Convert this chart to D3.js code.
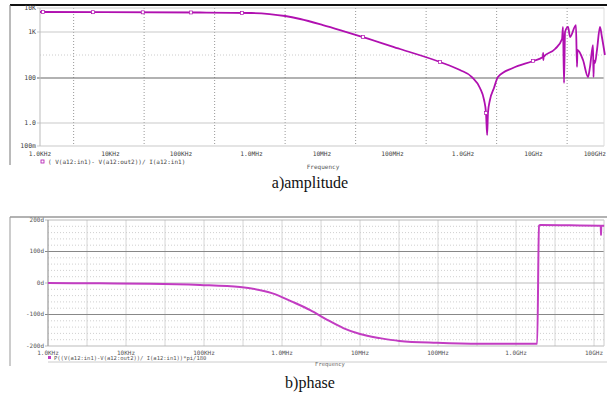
<!DOCTYPE html>
<html>
<head>
<meta charset="utf-8">
<script src="https://cdn.jsdelivr.net/npm/d3@7"></script>
<style>
  body { margin: 0; background: #fff; }
  svg { display: block; }
</style>
</head>
<body>
<div id="chart"></div>
<script>
// amplitude panel data (frequency in Hz, magnitude in ohm)
var ampFreq = [1e3, 1.86e5, 1e6, 1.8e6, 3e6, 4.9e6, 1.03e7, 1.8e7, 3.8e7, 1.28e8, 4.7e8, 9.06e8, 1.34e9, 1.74e9,
    1.99e9, 2.12e9, 2.2e9, 2.26e9, 2.41e9, 2.75e9, 3.13e9, 5.1e9, 9.8e9, 1.36e10, 1.37e10, 1.38e10, 1.39e10,
    2.02e10, 2.54e10, 2.62e10, 2.71e10, 2.8e10, 3.09e10, 3.3e10, 4.0e10, 4.14e10, 4.2e10, 5.04e10, 5.93e10,
    6.33e10, 6.98e10, 7.1e10, 7.2e10, 7.45e10, 7.95e10, 8.77e10, 9.34e10, 1.03e11];
var ampValue = [6800, 6500, 6200, 5600, 4640, 3480, 1950, 1210, 778, 427, 223, 149, 105, 36,
    10.5, 2.8, 0.3, 2.8, 10.5, 36, 105, 165, 234, 286, 350, 246, 286,
    427, 705, 1620, 60, 1000, 1620, 778, 1950, 174, 406, 246, 105,
    174, 521, 105, 240, 212, 406, 1620, 778, 316];
var ampMarkers = [1.1e3, 5.65e3, 2.87e4, 1.38e5, 7.3e5, 3.8e7, 4.7e8, 2.12e9, 9.8e9];

var ampTicks = [10000, 1000, 100, 1, 0.1];
var ampTickLabels = ["10K", "1K", "100", "1.0", "100m"];
var ampFreqTicks = [1e3, 1e4, 1e5, 1e6, 1e7, 1e8, 1e9, 1e10, 1e11];
var ampFreqLabels = ["1.0KHz", "10KHz", "100KHz", "1.0MHz", "10MHz", "100MHz", "1.0GHz", "10GHz", "100GHz"];

// phase panel data (frequency in Hz, phase in degrees)
var phFreq = [1e3, 4.6e3, 2e4, 8.9e4, 2.9e5, 7.4e5, 1.37e6, 2.3e6, 3.8e6, 6.1e6, 1e7, 1.8e7, 3.2e7, 9.7e7, 3.5e8,
    1.87e9, 1.97e9, 2.05e9, 1.2e10, 1.22e10, 1.23e10, 1.24e10, 1.35e10];
var phValue = [0, -1, -2, -6, -13, -32, -60, -86, -117, -143, -162, -175, -184, -190, -193,
    -193, 182, 184, 182, 182, 152, 182, 182];
var phTicks = [200, 100, 0, -100, -200];
var phTickLabels = ["200d", "100d", "0d", "-100d", "-200d"];
var phFreqTicks = [1e3, 1e4, 1e5, 1e6, 1e7, 1e8, 1e9, 1e10];
var phFreqLabels = ["1.0KHz", "10KHz", "100KHz", "1.0MHz", "10MHz", "100MHz", "1.0GHz", "10GHz"];

var width = 608, height = 396;
var svg = d3.select("#chart").append("svg")
    .attr("width", width)
    .attr("height", height);

var tickFont = "DejaVu Sans Mono";

// ---------- amplitude ----------
var ampG = svg.append("g");
ampG.append("line").attr("x1", 10).attr("x2", 607).attr("y1", 5).attr("y2", 5)
    .style("stroke", "#111").style("stroke-width", 2);
ampG.append("line").attr("x1", 10).attr("x2", 10).attr("y1", 5).attr("y2", 165)
    .style("stroke", "#777");

var xa = d3.scaleLog().domain([1e3, 1e11]).range([40, 604]);
var ya = d3.scaleLog().domain([0.1, 1, 100, 1000, 10000]).range([146, 123, 78, 32, 8]);

// vertical dotted grid at 3x decades
var aGrid = [3e3, 3e4, 3e5, 3e6, 3e7, 3e8, 3e9, 3e10];
ampG.selectAll(".vg").data(aGrid).enter().append("line")
    .attr("x1", function(d) { return xa(d); }).attr("x2", function(d) { return xa(d); })
    .attr("y1", 8).attr("y2", 146)
    .style("stroke", "#999").style("stroke-dasharray", "1,2");
ampG.selectAll(".hgd").data([316]).enter().append("line")
    .attr("x1", 40).attr("x2", 604)
    .attr("y1", function(d) { return ya(d); }).attr("y2", function(d) { return ya(d); })
    .style("stroke", "#ccc").style("stroke-dasharray", "1,2");
ampG.selectAll(".hg").data(ampTicks).enter().append("line")
    .attr("x1", 37).attr("x2", 604)
    .attr("y1", function(d) { return ya(d); }).attr("y2", function(d) { return ya(d); })
    .style("stroke", function(d) { return d === 100 ? "#666" : "#bbb"; })
    .style("stroke-width", function(d) { return d === 100 ? 1.2 : 0.8; });
ampG.append("line").attr("x1", 40).attr("x2", 40).attr("y1", 8).attr("y2", 146)
    .style("stroke", "#bbb");
ampG.append("line").attr("x1", 604).attr("x2", 604).attr("y1", 8).attr("y2", 146)
    .style("stroke", "#ddd");

ampG.selectAll(".yl").data(ampTicks).enter().append("text")
    .attr("x", 36).attr("y", function(d) { return ya(d) + 2; })
    .attr("text-anchor", "end")
    .attr("font-family", tickFont).attr("font-size", "6.5px").attr("fill", "#444")
    .text(function(d, i) { return ampTickLabels[i]; });
ampG.selectAll(".xl").data(ampFreqTicks).enter().append("text")
    .attr("x", function(d, i) { return i === ampFreqTicks.length - 1 ? 606 : xa(d); }).attr("y", 155.5)
    .attr("text-anchor", function(d, i) { return i === ampFreqTicks.length - 1 ? "end" : "middle"; })
    .attr("font-family", tickFont).attr("font-size", "6.2px").attr("fill", "#444")
    .text(function(d, i) { return ampFreqLabels[i]; });
ampG.append("rect").attr("x", 41).attr("y", 160).attr("width", 3).attr("height", 3)
    .style("fill", "none").style("stroke", "#b010b0").style("stroke-width", 0.8);
ampG.append("text").attr("x", 48).attr("y", 163.5)
    .attr("font-family", tickFont).attr("font-size", "6px").attr("fill", "#444")
    .text("( V(a12:in1)- V(a12:out2))/ I(a12:in1)");
ampG.append("text").attr("x", 323).attr("y", 169).attr("text-anchor", "middle")
    .attr("font-family", tickFont).attr("font-size", "6px").attr("fill", "#555")
    .text("Frequency");

var ampLine = d3.line()
    .x(function(d, i) { return xa(ampFreq[i]); })
    .y(function(d) { return ya(d); })
    .curve(d3.curveMonotoneX);
ampG.append("path").datum(ampValue)
    .attr("d", ampLine)
    .style("fill", "none").style("stroke", "#b010b0").style("stroke-width", 1.8)
    .style("stroke-linejoin", "round");

// markers sit on the curve: interpolate in log space along the data
function ampAt(f) {
    for (var i = 1; i < ampFreq.length; i++) {
        if (f <= ampFreq[i]) {
            var t = (Math.log(f) - Math.log(ampFreq[i - 1])) / (Math.log(ampFreq[i]) - Math.log(ampFreq[i - 1]));
            return Math.exp(Math.log(ampValue[i - 1]) + t * (Math.log(ampValue[i]) - Math.log(ampValue[i - 1])));
        }
    }
    return ampValue[ampValue.length - 1];
}
ampG.selectAll(".mk").data(ampMarkers).enter().append("rect")
    .attr("x", function(d) { return xa(d) - 1.5; })
    .attr("y", function(d) { return ya(ampAt(d)) - 1.5; })
    .attr("width", 3).attr("height", 3)
    .style("fill", "#fff").style("stroke", "#b010b0").style("stroke-width", 0.7);

svg.append("text").attr("x", 310).attr("y", 188).attr("text-anchor", "middle")
    .attr("font-family", "Liberation Serif").attr("font-size", "16px").attr("fill", "#111")
    .text("a)amplitude");

// ---------- phase ----------
var phG = svg.append("g");
phG.append("line").attr("x1", 10).attr("x2", 607).attr("y1", 217).attr("y2", 217)
    .style("stroke", "#666").style("stroke-width", 1.2);
phG.append("line").attr("x1", 10).attr("x2", 10).attr("y1", 217).attr("y2", 366)
    .style("stroke", "#999");
phG.append("line").attr("x1", 48).attr("x2", 607).attr("y1", 362).attr("y2", 362)
    .style("stroke", "#ccc");

var xp = d3.scaleLog().domain([1e3, 1e10]).range([48, 594]);
var yp = d3.scaleLinear().domain([-200, 200]).range([346, 220]);

var minor = d3.range(-180, 200, 20).filter(function(d) { return d % 100 !== 0; });
phG.selectAll(".mg").data(minor).enter().append("line")
    .attr("x1", 48).attr("x2", 604)
    .attr("y1", function(d) { return yp(d); }).attr("y2", function(d) { return yp(d); })
    .style("stroke", "#bbb").style("stroke-dasharray", "1,2").style("stroke-width", 0.7);
var pGrid = [];
phFreqTicks.forEach(function(f) { pGrid.push(f); pGrid.push(f * Math.sqrt(10)); });
phG.selectAll(".vg").data(pGrid.filter(function(f) { return xp(f) <= 604; })).enter().append("line")
    .attr("x1", function(d) { return xp(d); }).attr("x2", function(d) { return xp(d); })
    .attr("y1", 220).attr("y2", 346)
    .style("stroke", "#ccc").style("stroke-width", 0.8);
phG.selectAll(".hg").data(phTicks).enter().append("line")
    .attr("x1", 45).attr("x2", 604)
    .attr("y1", function(d) { return yp(d); }).attr("y2", function(d) { return yp(d); })
    .style("stroke", function(d) { return Math.abs(d) === 100 ? "#888" : "#aaa"; })
    .style("stroke-width", function(d) { return Math.abs(d) === 100 ? 1.2 : 0.8; });
phG.append("line").attr("x1", 48).attr("x2", 48).attr("y1", 220).attr("y2", 346)
    .style("stroke", "#999");
phG.append("line").attr("x1", 604).attr("x2", 604).attr("y1", 220).attr("y2", 346)
    .style("stroke", "#ccc");

phG.selectAll(".yl").data(phTicks).enter().append("text")
    .attr("x", 44).attr("y", function(d) { return yp(d) + 1.5; })
    .attr("text-anchor", "end")
    .attr("font-family", tickFont).attr("font-size", "6px").attr("fill", "#555")
    .text(function(d, i) { return phTickLabels[i]; });
phG.selectAll(".xl").data(phFreqTicks).enter().append("text")
    .attr("x", function(d) { return xp(d); }).attr("y", 354.5)
    .attr("text-anchor", "middle")
    .attr("font-family", tickFont).attr("font-size", "6px").attr("fill", "#555")
    .text(function(d, i) { return phFreqLabels[i]; });
phG.append("rect").attr("x", 48).attr("y", 356).attr("width", 3).attr("height", 3)
    .style("fill", "#c23cc2");
phG.append("text").attr("x", 54).attr("y", 359.5)
    .attr("font-family", tickFont).attr("font-size", "5.5px").attr("fill", "#555")
    .text("P((V(a12:in1)-V(a12:out2))/ I(a12:in1))*pi/180");
phG.append("text").attr("x", 330).attr("y", 366).attr("text-anchor", "middle")
    .attr("font-family", tickFont).attr("font-size", "5.5px").attr("fill", "#666")
    .text("Frequency");

var phLine = d3.line()
    .x(function(d, i) { return xp(phFreq[i]); })
    .y(function(d) { return yp(d); })
    .curve(d3.curveMonotoneX);
phG.append("path").datum(phValue)
    .attr("d", phLine)
    .style("fill", "none").style("stroke", "#c23cc2").style("stroke-width", 2)
    .style("stroke-linejoin", "round");

svg.append("text").attr("x", 310).attr("y", 388).attr("text-anchor", "middle")
    .attr("font-family", "Liberation Serif").attr("font-size", "16px").attr("fill", "#111")
    .text("b)phase");
</script>
</body>
</html>
